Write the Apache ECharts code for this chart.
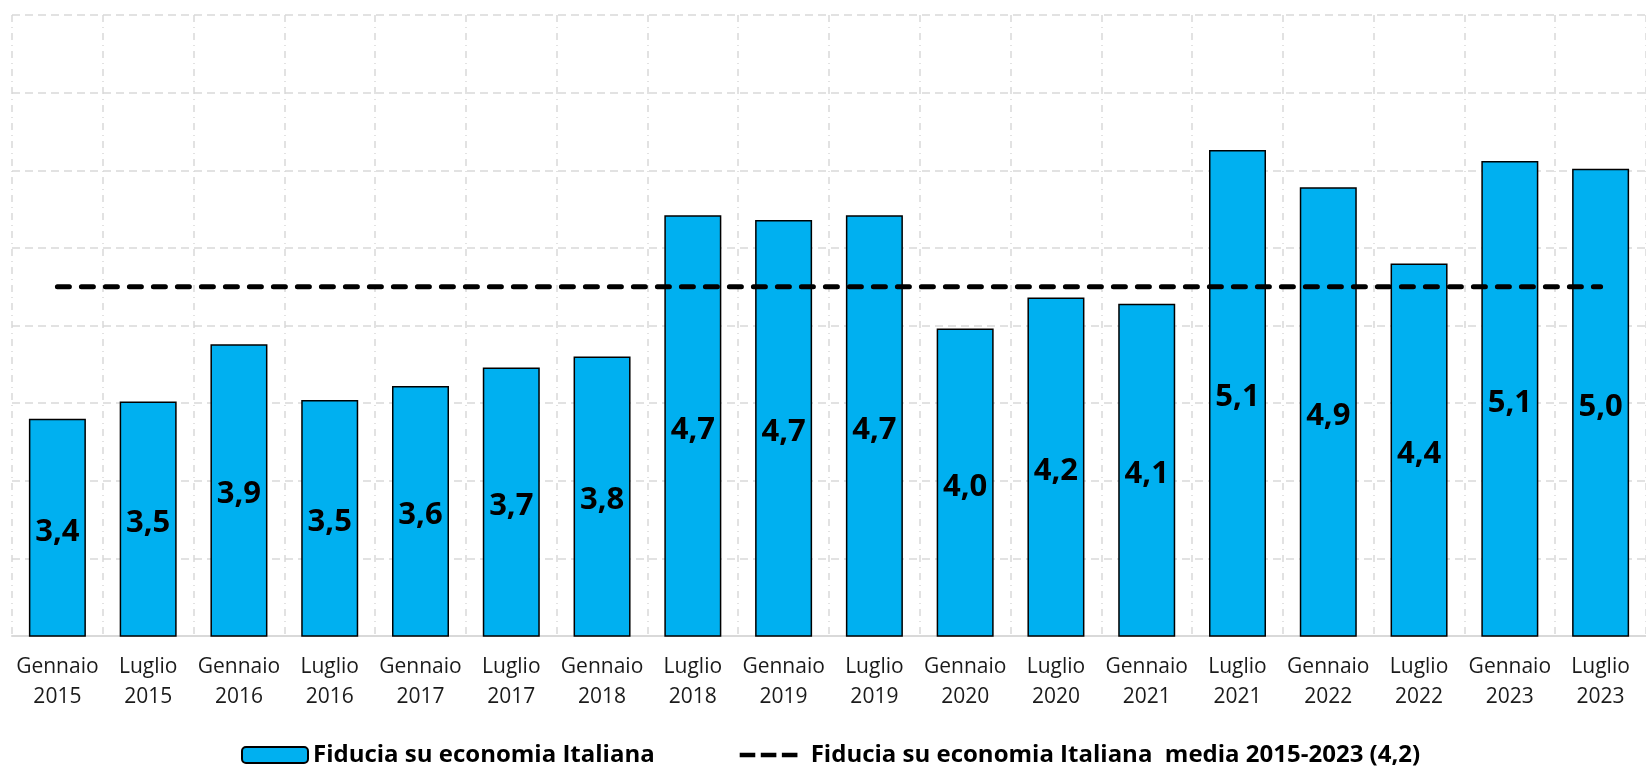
<!DOCTYPE html>
<html>
<head>
<meta charset="utf-8">
<script src="https://cdn.jsdelivr.net/npm/echarts@6/dist/echarts.min.js"></script>
<style>
  html, body { margin: 0; padding: 0; background: #fff; }
  #chart { width: 1646px; height: 766px; }
</style>
</head>
<body>
<div id="chart"></div>
<script>
const periodi = [
  'Gennaio\n2015', 'Luglio\n2015', 'Gennaio\n2016', 'Luglio\n2016', 'Gennaio\n2017', 'Luglio\n2017',
  'Gennaio\n2018', 'Luglio\n2018', 'Gennaio\n2019', 'Luglio\n2019', 'Gennaio\n2020', 'Luglio\n2020',
  'Gennaio\n2021', 'Luglio\n2021', 'Gennaio\n2022', 'Luglio\n2022', 'Gennaio\n2023', 'Luglio\n2023'
];
const fiducia = [3.40, 3.51, 3.88, 3.52, 3.61, 3.73, 3.80, 4.71, 4.68, 4.71, 3.98, 4.18, 4.14, 5.13, 4.89, 4.40, 5.06, 5.01];
const media = 4.25;
const mediaLine = periodi.map(() => media);

const nomeBar = 'Fiducia su economia Italiana';
const nomeMedia = 'Fiducia su economia Italiana  media 2015-2023 (4,2)';

const chart = echarts.init(document.getElementById('chart'));
const font = "'Open Sans', 'Noto Sans', sans-serif";

// tre trattini per la legenda della media (punti vuoti per fissare il riquadro)
const iconaTratteggio = 'path://M0,0L0,0M72,16L72,16M0,5.5h17v5h-17zM23,5.5h17v5h-17zM46,5.5h17v5h-17z';

const option = {
    animation: false,
    textStyle: { fontFamily: font },
    grid: {
        left: 12,
        right: -13.5,
        top: 15,
        bottom: 130
    },
    legend: {
        left: 236,
        top: 738,
        itemWidth: 66,
        itemHeight: 16,
        itemGap: 85,
        textStyle: {
            fontFamily: font,
            fontSize: 24,
            fontWeight: 'bold',
            color: '#000'
        },
        data: [
            { name: nomeBar },
            { name: nomeMedia, icon: iconaTratteggio, itemStyle: { color: '#000', borderWidth: 0 } }
        ]
    },
    xAxis: {
        type: 'category',
        data: periodi,
        axisLine: { lineStyle: { color: '#d9d9d9', width: 2 } },
        axisTick: { show: false },
        axisLabel: {
            interval: 0,
            margin: 16,
            fontSize: 21,
            lineHeight: 30,
            color: '#1a1a1a'
        },
        splitLine: {
            show: true,
            interval: 0,
            lineStyle: { color: '#d9d9d9', width: 1.5, type: [7, 5, 1, 5] }
        }
    },
    yAxis: {
        type: 'value',
        min: 2,
        max: 6,
        interval: 0.5,
        axisLabel: { show: false },
        axisLine: { show: false },
        axisTick: { show: false },
        splitLine: {
            lineStyle: { color: '#d9d9d9', width: 1.5, type: [8, 5] }
        }
    },
    series: [
        {
            name: nomeBar,
            type: 'bar',
            data: fiducia,
            barWidth: 57,
            itemStyle: {
                color: '#00B0F0',
                borderColor: '#000',
                borderWidth: 1.5
            },
            label: {
                show: true,
                position: 'inside',
                offset: [0, 4],
                fontFamily: font,
                fontSize: 31,
                fontWeight: 'bold',
                color: '#000',
                formatter: (p) => p.value.toFixed(1).replace('.', ',')
            }
        },
        {
            name: nomeMedia,
            type: 'line',
            data: mediaLine,
            symbol: 'none',
            z: 5,
            lineStyle: {
                color: '#000',
                width: 5,
                type: [12, 12],
                cap: 'round'
            },
            itemStyle: { color: '#000' }
        }
    ]
};

chart.setOption(option);
</script>
</body>
</html>
